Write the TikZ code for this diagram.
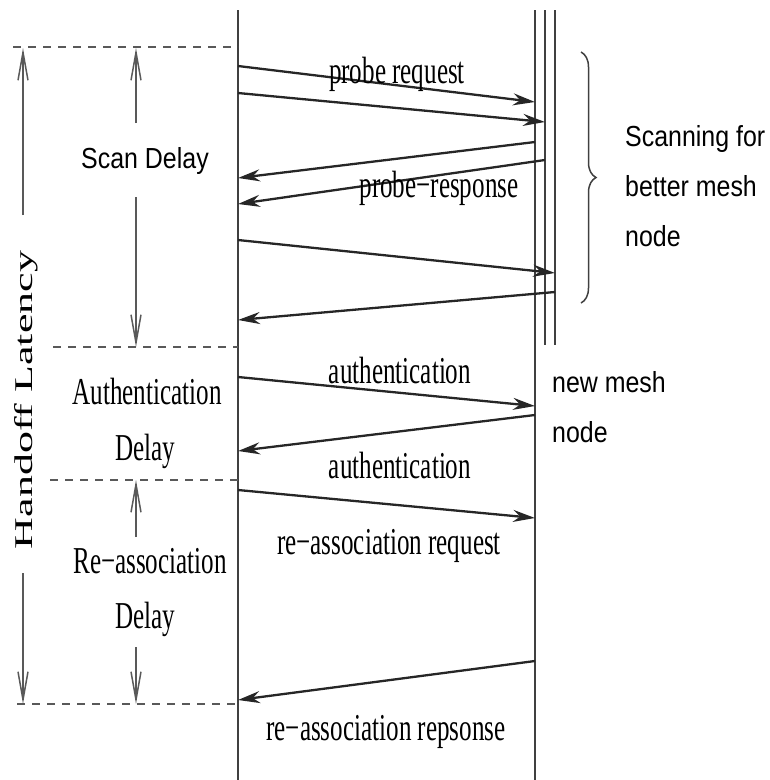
\documentclass[tikz,border=0pt]{standalone}
\usepackage{fontspec}
\usepackage{graphicx}
\usetikzlibrary{arrows.meta,decorations.pathreplacing}
\newfontfamily\msgfont{Liberation Serif}[FakeStretch=0.66]
\newfontfamily\notefont{Liberation Sans}[FakeStretch=0.86]
\newfontfamily\latfont{Liberation Serif}
\tikzset{
  lifeline/.style={draw=black!75, line width=1.5pt},
  msg/.style={draw=black!85, line width=2.3pt, -{Stealth[length=22pt,width=12pt]}},
  guide/.style={draw=black!65, line width=2.2pt, dash pattern=on 8pt off 7pt},
  span/.style={draw=black!65, line width=1.5pt, -{Straight Barb[length=28pt,width=10pt]}},
  msglabel/.style={font=\msgfont\fontsize{38}{44}\selectfont, inner sep=0pt, anchor=base},
  notelabel/.style={font=\notefont\fontsize{29}{50}\selectfont, inner sep=0pt, align=left, anchor=north west},
}
\begin{document}
\begin{tikzpicture}[x=1pt,y=-1pt]
\useasboundingbox (0,0) rectangle (770,780);
% lifelines
\coordinate (old) at (238,10);
\coordinate (mesh) at (535,10);
\coordinate (mesha) at (545,10);
\coordinate (meshb) at (555,10);
\draw[lifeline] (old) -- (old |- 0,780);
\draw[lifeline] (mesh) -- (mesh |- 0,780);
\draw[lifeline] (mesha) -- (mesha |- 0,345);
\draw[lifeline] (meshb) -- (meshb |- 0,345);

% phase borders
\draw[guide] (13,47) -- (old |- 0,47);
\draw[guide] (53,347) -- (old |- 0,347);
\draw[guide] (50,480) -- (old |- 0,480);
\draw[guide] (17,704) -- (old |- 0,704);

% messages
\foreach \a/\ya/\b/\yb in {old/66/mesh/102, old/93/mesha/122, mesh/142/old/178,
    mesha/160/old/204, old/240/meshb/273, meshb/292/old/320, old/377/mesh/406,
    mesh/415/old/451, old/490/mesh/518, mesh/661/old/700}
  \draw[msg] (\a |- 0,\ya) -- (\b |- 0,\yb);

\node[msglabel] (req) at (397,83) {probe request};
\node[msglabel] (resp) at (439,197) {probe−response};
\node[msglabel] (auth) at (400,383) {authentication};
\node[msglabel] (authb) at (400,478) {authentication};
\node[msglabel] (reareq) at (389,554) {re−association request};
\node[msglabel] (rearesp) at (386,740) {re−association repsonse};

% delays
\node[notelabel, anchor=base] (scan) at (145,168) {Scan Delay};
\node[msglabel] (authd) at (147,404) {Authentication};
\node[msglabel] (authdl) at (145,460) {Delay};
\node[msglabel] (read) at (150,573) {Re−association};
\node[msglabel] (readl) at (145,628) {Delay};
\draw[span] (136,123) -- (136,48);
\draw[span] (136,197) -- (136,347);
\draw[span] (136,537) -- (136,480);
\draw[span] (136,647) -- (136,704);

\node[rotate=90, inner sep=0pt] (handoff) at (26,400)
  {\scalebox{1}[0.58]{\latfont\fontsize{44}{50}\selectfont Handoff Latency}};
\draw[span] (23,215) -- (23,48);
\draw[span] (23,573) -- (23,704);

\draw[draw=black!75, line width=1.5pt, decorate, decoration={brace, amplitude=15pt}]
  (581,52) -- (581,303);
\node[notelabel] (scanning) at (625,125) {Scanning for\\better mesh\\node};
\node[notelabel] (newnode) at (552,371) {new mesh\\node};
\end{tikzpicture}
\end{document}
